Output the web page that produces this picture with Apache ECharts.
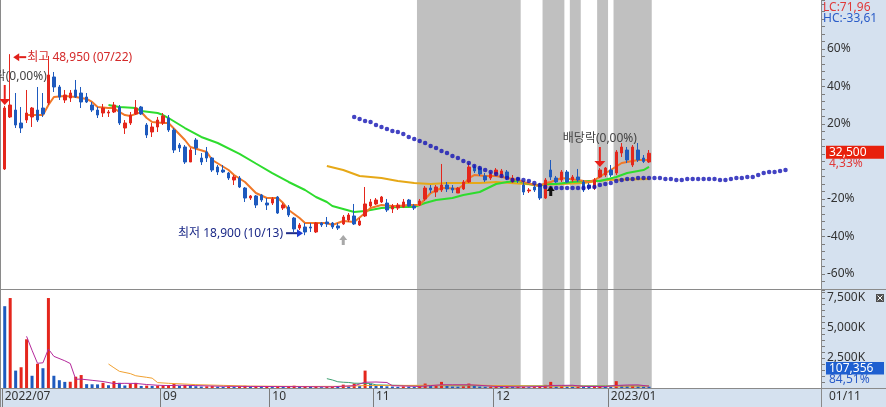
<!DOCTYPE html>
<html>
<head>
<meta charset="utf-8">
<script src="https://cdn.jsdelivr.net/npm/echarts/dist/echarts.min.js"></script>
<style>html,body{margin:0;padding:0;background:#fff}#chart{width:886px;height:407px}</style>
</head>
<body>
<div id="chart"></div>
<script>
// ---------------- data ----------------
const basePrice = 31150;            // previous close = 0% line of the right axis
const pctMin = -68, pctMax = 86;    // visible range of the % axis
const slotCount = 150;              // trading-day slots incl. empty future area
const categories = Array.from({length: slotCount}, (_, i) => String(i));
const monthTickIndex = [0, 29, 49, 68, 90, 111];
const monthTickLabel = ['2022/07', '09', '10', '11', '12', '2023/01'];
const pctTickLabels = [60, 40, 20, -20, -40, -60];

const openP = [29890,38520,39680,37520,38020,38520,39680,40010,40840,45160,
43500,41340,41670,43000,42500,41840,40510,39680,39180,39180,
39350,40180,36690,37520,39020,40180,37190,36030,36860,37520,
38350,36360,33870,33540,31050,34700,31710,32710,31710,30220,
29720,29220,28060,28390,26730,25070,25410,25570,24240,24240,
25240,23410,23580,21750,20090,20260,20260,19430,20920,21090,
20920,20430,20760,21420,22090,20590,22090,23750,24080,24410,
24240,23250,23410,23580,24740,23750,23910,24910,26730,26070,
26400,27230,26730,25900,26570,27730,30220,30050,28730,28390,
29060,28890,29390,27730,28390,27230,26240,26900,27230,25070,
29720,28390,28060,29390,28060,28560,27730,27230,26730,28560,
28890,29720,29220,32540,33040,30550,33040,31710,31050];
const closeP = [40010,40510,37190,36690,39180,40010,38020,39020,45490,43500,
41840,42170,42500,41840,41010,41010,39680,38850,40010,39350,
40510,37520,37520,38850,40010,39020,35530,36860,38020,38690,
36360,33040,33370,31050,33040,33370,31050,31710,29720,29390,
29390,28390,28560,26900,25070,25410,23910,24740,23910,24910,
22580,23910,22250,19930,20590,19430,20090,20920,20590,20760,
20260,20090,21920,22250,20760,21260,24080,24410,24740,25240,
23080,23750,23910,24410,23750,23410,24580,26730,26400,26900,
27230,26570,26400,26730,27730,30220,29560,29060,28060,29060,
29720,29560,28390,28390,28060,26070,26400,26400,25070,28060,
28560,27730,29390,27730,28560,28060,26400,26730,28060,29720,
30050,28890,32710,33540,31380,33540,31380,31150,32500];
const lowP = [29720,38350,36690,35860,37520,36860,37690,38520,40510,42670,
41340,40840,41010,41670,40010,40840,39350,38350,38520,38520,
39180,37190,35700,37190,38850,38850,35030,35200,36030,37190,
36030,32540,32710,30720,31050,32210,30550,31050,29390,28890,
29220,28060,27230,26730,24410,24740,23410,24410,23080,23910,
22420,23080,21920,19430,19760,18900,19430,19260,20260,20260,
19930,19760,20590,21090,20590,20430,21920,23580,23910,24240,
22750,22580,23080,23410,23580,23080,23750,24580,25900,25240,
26070,26070,25900,25900,26400,27560,29220,28730,27730,28060,
28730,28560,28060,27560,27560,25570,25900,26070,24740,24910,
28060,27560,27730,27560,27730,27730,26070,26400,26400,28390,
28560,28560,28890,31880,30880,30220,31050,30880,30880];
const highP = [40350,48950,42500,40180,43000,40180,43500,42500,48650,45990,
43830,43000,43000,44660,43500,42500,41010,40180,40680,39680,
41010,40510,38020,39350,41340,40350,37520,37520,38520,39180,
38850,36690,34200,33870,33370,35030,32540,33540,31880,30550,
30550,29390,28890,28730,26900,25570,25570,25740,25070,25240,
25410,24240,23910,21920,20920,20920,20920,21090,21090,21920,
21090,20920,22250,22580,24080,21750,26900,24910,25070,25410,
24910,24080,24240,24910,24910,24080,24910,27070,27230,27230,
30720,27730,27230,26900,28060,30880,30550,30390,29220,29390,
30050,29890,29720,28890,28560,27730,26730,27230,27560,28390,
31380,28730,29720,29720,28890,29890,28060,27560,28390,30050,
30220,30550,33040,34200,33540,33870,34200,32210,33040];

const volumes = [6820000,7500000,1450000,1730000,4060000,1020000,2020000,1650000,7500000,1020000,
650000,510000,520000,940000,1080000,320000,310000,300000,430000,230000,
570000,430000,210000,340000,430000,170000,200000,170000,200000,210000,
250000,330000,180000,260000,170000,150000,120000,140000,160000,110000,
90000,120000,100000,130000,180000,90000,150000,100000,110000,80000,
160000,100000,120000,190000,120000,150000,90000,140000,70000,80000,
100000,90000,280000,130000,370000,160000,1450000,330000,190000,170000,
140000,120000,100000,130000,110000,90000,150000,370000,160000,180000,
510000,200000,120000,110000,140000,370000,180000,120000,100000,110000,
130000,90000,100000,80000,90000,110000,70000,80000,120000,260000,
510000,140000,160000,130000,110000,120000,100000,80000,120000,150000,
140000,100000,570000,230000,180000,210000,140000,120000,107356];

// moving-average lines as [slot, value] knots
const ma5Knots = [[4,38850],[7,38850],[8,40510],[9,41840],[11,42000],[13,41840],[15,41510],[16,41010],[17,40180],[19,40010],[20,40010],[21,39350],[22,38850],[23,38700],[25,39350],[26,38350],[27,37690],[29,37520],[30,37520],[33,34700],[34,33540],[37,32710],[38,31380],[41,29720],[42,28890],[44,27730],[46,25900],[48,25070],[50,25070],[51,24240],[52,23080],[54,21750],[55,20920],[57,20920],[59,20920],[60,20590],[62,21260],[64,21090],[66,22580],[67,23410],[69,23910],[71,23750],[72,23750],[74,23910],[76,23910],[77,24900],[78,25900],[80,26730],[81,26730],[83,26570],[84,27230],[85,28390],[86,28890],[88,28730],[90,28730],[91,28560],[92,28390],[94,28060],[95,27730],[97,27230],[98,27070],[99,27560],[100,27730],[101,28060],[102,28390],[105,28060],[107,27730],[108,28060],[109,28560],[110,29220],[111,29720],[113,30880],[114,31050],[116,31380],[118,31380]];
const ma20Knots = [[19,40510],[21,40180],[24,40010],[25,39520],[28,39180],[29,38850],[30,38350],[33,36690],[36,35200],[39,34200],[43,32400],[46,30800],[49,29220],[52,27730],[55,26400],[57,25240],[59,24410],[60,23750],[62,23250],[64,22750],[66,22920],[69,23410],[72,23580],[75,23580],[77,24240],[79,24740],[82,25070],[84,25570],[87,26070],[90,27400],[92,27730],[94,27900],[96,27400],[98,27070],[99,27400],[101,27400],[104,27730],[107,27900],[109,27900],[112,28560],[114,29220],[117,29720],[118,30220]];
const ma60Knots = [[59,30390],[62,29720],[65,28730],[69,28390],[72,27900],[75,27560],[78,27400],[81,27560],[84,27560],[87,27560],[90,27730],[98,27230],[106,27560],[110,28060],[118,28230]];
const leadSpanStart = 64;
const leadSpanValues = [38520,38190,37860,37690,37190,36860,36530,36200,36030,35700,
35200,34870,34540,34200,33710,33370,32880,32540,32050,31710,
31220,30880,30390,30050,29720,29390,29060,28730,28390,28060,
28230,28060,27900,27560,27230,26900,26730,26730,26730,26730,
26730,26730,26730,26900,26900,27230,27400,27560,27900,28060,
28230,28230,28390,28390,28390,28390,28390,28230,28230,28060,
28060,28230,28230,28230,28230,28230,28230,28060,28060,28230,
28390,28390,28560,28560,28890,29220,29390,29390,29560,29720];

const vol5Knots = [[4,4310000],[5,3150000],[6,2060000],[7,2100000],[8,3250000],[9,2640000],[11,2270000],[12,2040000],[13,730000],[14,740000],[16,640000],[18,540000],[20,370000],[22,390000],[24,380000],[26,290000],[28,230000],[30,200000],[32,230000],[35,200000],[40,140000],[50,120000],[60,100000],[62,150000],[64,190000],[66,480000],[68,500000],[70,460000],[71,190000],[76,130000],[78,200000],[80,270000],[82,270000],[85,270000],[87,220000],[90,130000],[95,90000],[99,130000],[100,210000],[102,220000],[104,230000],[106,130000],[110,120000],[112,210000],[114,250000],[116,260000],[118,150000]];
const vol20Knots = [[19,2000000],[20,1690000],[21,1390000],[23,1200000],[24,1020000],[26,890000],[27,820000],[28,450000],[30,390000],[33,330000],[35,280000],[40,220000],[45,160000],[55,130000],[62,140000],[66,200000],[70,210000],[80,230000],[86,250000],[90,200000],[100,160000],[110,150000],[118,170000]];
const vol60Knots = [[59,780000],[60,670000],[61,520000],[62,480000],[63,460000],[64,400000],[67,380000],[68,260000],[70,240000],[74,200000],[80,200000],[90,190000],[100,180000],[110,180000],[118,180000]];

const shadeRanges = [[76,94],[99,102],[104,105],[109,110],[112,118]];
const highMark = {idx: 1, price: 48950, label: '최고 48,950 (07/22)'};
const lowMark = {idx: 55, price: 18900, label: '최저 18,900 (10/13)'};
const dividendMarks = [{idx: 0, label: '배당락(0,00%)'}, {idx: 109, label: '배당락(0,00%)'}];
const signalMarks = [{idx: 62, kind: 'grey'}, {idx: 100, kind: 'black'}];
const sideTexts = {lc: 'LC:71,96', hc: 'HC:-33,61', last: '32,500', lastPct: '4,33%', vol: '107,356', volPct: '84,51%', date: '01/11'};

// ---------------- chart ----------------
const RED = '#E4261C', BLUE = '#1E5ABE';
const FONT = '"Noto Sans", "Noto Sans CJK KR", sans-serif';
const priceMin = basePrice * (1 + pctMin / 100);
const priceMax = basePrice * (1 + pctMax / 100);
const chart = echarts.init(document.getElementById('chart'), null, {renderer: 'canvas'});

function shadeItem(params, api) {
  const cs = params.coordSys;
  const w = api.size([1, 0])[0];
  const x0 = api.coord([api.value(0), 0])[0] - w / 2;
  const x1 = api.coord([api.value(1), 0])[0] + w / 2;
  return {type: 'rect', shape: {x: x0, y: cs.y, width: x1 - x0, height: cs.height}, style: {fill: '#C0C0C0'}};
}
function maLine(knots, color, width, xi, yi, z) {
  return {type: 'line', data: knots, xAxisIndex: xi, yAxisIndex: yi, showSymbol: false, symbol: 'none',
    lineStyle: {color, width}, itemStyle: {color}, z, silent: true};
}
const isTick = (i) => monthTickIndex.indexOf(i) >= 0;
const axisGrey = '#7c7c7c';

const option = {
  animation: false,
  backgroundColor: '#ffffff',
  textStyle: {fontFamily: FONT},
  grid: [
    {left: 2, right: 65, top: 0, height: 289},
    {left: 2, right: 65, top: 290, height: 98}
  ],
  xAxis: [
    {type: 'category', gridIndex: 0, data: categories, boundaryGap: true,
     axisLine: {show: false}, axisTick: {show: false}, axisLabel: {show: false}, splitLine: {show: false}},
    {type: 'category', gridIndex: 1, data: categories, boundaryGap: true,
     axisLine: {show: true, lineStyle: {color: axisGrey}},
     axisTick: {show: true, interval: (i) => isTick(i), length: 19, lineStyle: {color: axisGrey}},
     axisLabel: {interval: (i) => isTick(i), formatter: (v) => monthTickLabel[monthTickIndex.indexOf(Number(v))] || '',
       align: 'left', color: '#333', fontSize: 12, margin: 3, fontFamily: FONT},
     splitLine: {show: false}}
  ],
  yAxis: [
    {type: 'value', gridIndex: 0, min: priceMin, max: priceMax, show: false},
    {type: 'value', gridIndex: 0, position: 'right', min: pctMin, max: pctMax, interval: 4,
     axisLine: {show: true, lineStyle: {color: axisGrey}},
     axisTick: {show: true, length: 4, lineStyle: {color: axisGrey}},
     axisLabel: {formatter: (v) => pctTickLabels.indexOf(Math.round(v)) >= 0 ? Math.round(v) + '%' : '',
       color: '#333', fontSize: 12, margin: 6, fontFamily: FONT},
     splitLine: {show: false}},
    {type: 'value', gridIndex: 1, position: 'right', min: 0, max: 8170000, interval: 500000,
     axisLine: {show: true, lineStyle: {color: axisGrey}},
     axisTick: {show: true, length: 4, lineStyle: {color: axisGrey}},
     axisLabel: {formatter: (v) => (v > 0 && v % 2500000 === 0) ? (v / 1000).toLocaleString('en-US') + 'K' : '',
       color: '#333', fontSize: 12, margin: 6, fontFamily: FONT},
     splitLine: {show: false}}
  ],
  series: [
    {type: 'custom', xAxisIndex: 0, yAxisIndex: 0, renderItem: shadeItem, data: shadeRanges, z: 1, silent: true},
    {type: 'custom', xAxisIndex: 1, yAxisIndex: 2, renderItem: shadeItem, data: shadeRanges, z: 1, silent: true},
    {type: 'candlestick', xAxisIndex: 0, yAxisIndex: 0, barWidth: 3, z: 6, silent: true,
     data: openP.map((o, i) => [o, closeP[i], lowP[i], highP[i]]),
     itemStyle: {color: RED, color0: BLUE, borderColor: RED, borderColor0: BLUE, borderWidth: 1}},
    maLine(ma60Knots, '#E6A817', 2, 0, 0, 3),
    maLine(ma20Knots, '#2EDC2E', 2, 0, 0, 4),
    maLine(ma5Knots, '#F07828', 2, 0, 0, 5),
    {type: 'scatter', xAxisIndex: 0, yAxisIndex: 0, symbol: 'circle', symbolSize: 4.5, z: 7, silent: true,
     itemStyle: {color: '#1414B4'},
     data: leadSpanValues.map((v, k) => [leadSpanStart + k, v])},
    {type: 'bar', xAxisIndex: 1, yAxisIndex: 2, barWidth: 3, z: 4, silent: true,
     data: volumes.map((v, i) => ({value: v, itemStyle: {color: (i > 0 && v > volumes[i - 1]) ? RED : BLUE}}))},
    maLine(vol60Knots, '#3CA070', 1, 1, 2, 5),
    maLine(vol20Knots, '#F0A030', 1, 1, 2, 5),
    maLine(vol5Knots, '#B4289A', 1, 1, 2, 6)
  ]
};
chart.setOption(option);

// ---------------- annotations ----------------
const font12 = '12px ' + FONT;
const toPx = (i, v) => chart.convertToPixel({seriesIndex: 2}, [i, v]);
const G = [];
function txt(text, x, y, fill, align) {
  G.push({type: 'text', z: 100, silent: true, style: {text, x, y, fill, font: font12,
    align: align || 'left', textAlign: align || 'left', verticalAlign: 'middle', textVerticalAlign: 'middle'}});
}
function rect(x, y, w, h, fill, z) { G.push({type: 'rect', z: z == null ? 100 : z, silent: true, shape: {x, y, width: w, height: h}, style: {fill}}); }
function seg(x1, y1, x2, y2, stroke, z) { G.push({type: 'line', z: z == null ? 60 : z, silent: true, shape: {x1, y1, x2, y2}, style: {stroke, lineWidth: 1}}); }
function poly(points, fill) { G.push({type: 'polygon', z: 100, silent: true, shape: {points}, style: {fill}}); }

// panel backgrounds and borders
rect(821, 0, 65, 407, '#D5E1EF', -10);
rect(0, 388, 821, 19, '#D5E1EF', -10);
seg(0.5, 0, 0.5, 407, '#8a8a8a');
seg(821.5, 0, 821.5, 407, '#8a8a8a');
seg(0, 289.5, 886, 289.5, '#8a8a8a');
seg(0, 388.5, 886, 388.5, '#8a8a8a');

// highest price marker
{
  const p = toPx(highMark.idx, highMark.price);
  const tx = p[0] + 3, ty = p[1] + 3;
  poly([[tx, ty], [tx + 6, ty - 4], [tx + 6, ty + 4]], '#E0201A');
  rect(tx + 6, ty - 1, 7, 2, '#E0201A');
  txt(highMark.label, tx + 14, ty, '#D42A2A', 'left');
}
// lowest price marker
{
  const p = toPx(lowMark.idx, lowMark.price);
  const tx = p[0] - 2, ty = p[1] - 2;
  poly([[tx, ty], [tx - 6, ty - 4], [tx - 6, ty + 4]], '#1E3CD2');
  rect(tx - 17, ty - 1, 11, 2, '#1C2A88');
  txt(lowMark.label, tx - 20, ty, '#1C2A88', 'right');
}
// dividend (배당락) markers
dividendMarks.forEach((m) => {
  const p = toPx(m.idx, highP[m.idx]);
  const cx = p[0], ty = p[1] - 1;
  poly([[cx - 5.5, ty - 6], [cx + 5.5, ty - 6], [cx, ty]], '#E8201A');
  rect(cx - 1, ty - 20, 2, 14, '#E8201A');
  txt(m.label, m.idx === 0 ? cx + 42 : cx, ty - 28, '#444', m.idx === 0 ? 'right' : 'center');
});
// signal arrows under candles
signalMarks.forEach((m) => {
  const p = toPx(m.idx, lowP[m.idx]);
  const cx = p[0];
  const top = p[1] + (m.kind === 'grey' ? 10 : 6);
  const col = m.kind === 'grey' ? '#A8A8A8' : '#111111';
  poly([[cx, top], [cx - 4, top + 5], [cx + 4, top + 5]], col);
  rect(cx - 1.5, top + 5, 3, 5, col);
});
// right side labels
{
  const y = toPx(openP.length - 1, closeP[closeP.length - 1])[1] - 1;
  rect(826, y - 6.5, 58, 13, '#E8200C');
  txt(sideTexts.last, 829, y, '#ffffff', 'left');
  txt(sideTexts.lastPct, 829, y + 11, '#E03A3A', 'left');
}
txt(sideTexts.lc, 823, 8, '#E03A3A', 'left');
txt(sideTexts.hc, 823, 19, '#2A5CC8', 'left');
rect(826, 362, 58, 12.5, '#1E5FD0');
txt(sideTexts.vol, 829, 368.5, '#ffffff', 'left');
txt(sideTexts.volPct, 829, 380, '#2A5CC8', 'left');
txt(sideTexts.date, 829, 397, '#333', 'left');
// small close icon of the volume pane
rect(876, 294, 8, 8, '#505050');
seg(877.5, 295.5, 882.5, 300.5, '#ffffff', 101);
seg(882.5, 295.5, 877.5, 300.5, '#ffffff', 101);

chart.setOption({graphic: {elements: G}});
</script>
</body>
</html>
